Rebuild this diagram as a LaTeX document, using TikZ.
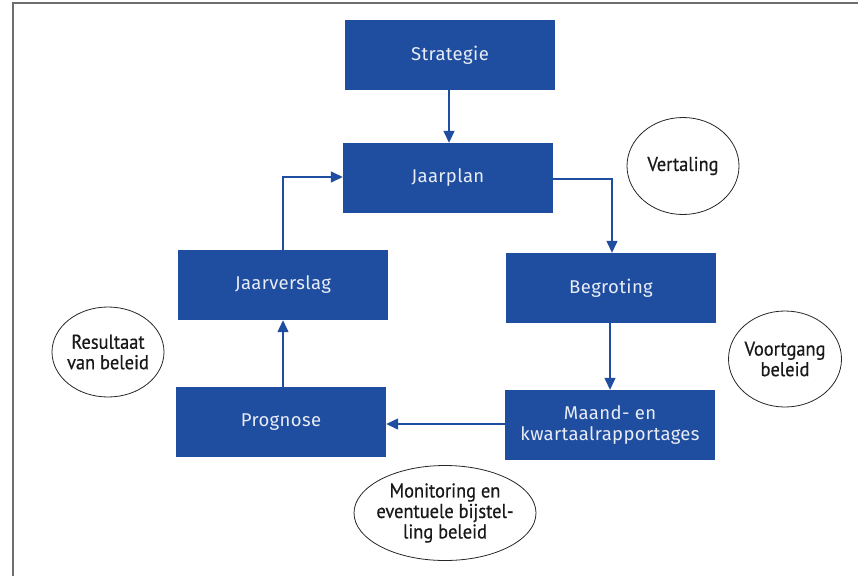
\documentclass[tikz,border=0pt]{standalone}
\usepackage{fontspec}
\setmainfont{Fira Sans}
\newfontfamily\notefont[FakeStretch=0.92,FakeBold=0.6]{PT Sans}
\usetikzlibrary{arrows.meta,shapes.geometric}
\definecolor{boxblue}{RGB}{31,77,160}
\definecolor{boxtext}{RGB}{232,236,244}
\definecolor{framegray}{RGB}{110,110,110}
\begin{document}
\begin{tikzpicture}[x=1pt,y=-1pt,
  stepbox/.style={draw=none,fill=boxblue,minimum width=210pt,minimum height=70pt,
    text=boxtext,align=center,inner sep=0pt,
    font=\addfontfeatures{LetterSpace=2}\fontsize{18.5}{21.5}\selectfont},
  note/.style={ellipse,draw=black!85,line width=0.8pt,inner xsep=-14pt,inner ysep=0pt,
    align=center,text=black!90,
    font=\notefont\fontsize{20}{20.5}\selectfont},
  flow/.style={draw=boxblue,line width=1.3pt,-{Triangle[length=12pt,width=11pt]}}]
\useasboundingbox (0,0) rectangle (858,576);
% page frame
\draw[framegray,line width=1.4pt] (13,576) -- (13,3) -- (858,3);
% process boxes
\node[stepbox] (strat) at (450,55) {Strategie};
\node[stepbox] (plan) at (448,178) {Jaarplan};
\node[stepbox] (verslag) at (283,285) {Jaarverslag};
\node[stepbox] (begr) at (611,288) {Begroting};
\node[stepbox] (progn) at (281,422) {Prognose};
\node[stepbox] (maand) at (610,425) {Maand- en\\kwartaalrapportages};
% annotations
\node[note,minimum width=112pt,minimum height=97pt] (vert) at (683,166) {Vertaling};
\node[note,minimum width=113pt,minimum height=96pt] (voort) at (785,359) {Voortgang\\beleid};
\node[note,minimum width=112pt,minimum height=90pt] (res) at (108,352) {Resultaat\\van beleid};
\node[note,minimum width=182pt,minimum height=95pt] (mon) at (445,513) {Monitoring en\\eventuele bijstel-\\ling beleid};
% connectors
\draw[flow] (strat.south -| 449,0) -- (plan.north -| 449,0);
\draw[flow] (plan.east |- 0,179) -| (begr.north -| 612,0);
\draw[flow] (begr.south -| 610,0) -- (maand.north -| 610,0);
\draw[flow] (maand.west |- 0,424) -- (progn.east |- 0,424);
\draw[flow] (progn.north -| 283,0) -- (verslag.south -| 283,0);
\draw[flow] (verslag.north -| 283,0) |- (plan.west |- 0,177);
\end{tikzpicture}
\end{document}
